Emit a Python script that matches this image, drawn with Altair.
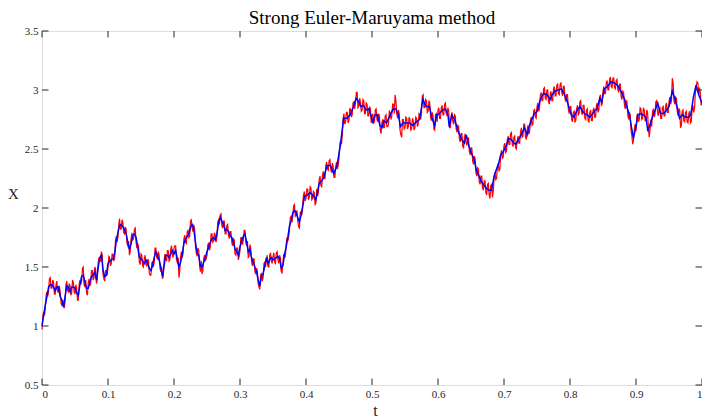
import altair as alt
import pandas as pd

# ---- blue (coarse Euler-Maruyama) path ----
blue_grid_vals = [
    1.00, 1.09, 1.18, 1.25, 1.33, 1.35, 1.35, 1.33, 1.30, 1.33,
    1.33, 1.25, 1.22, 1.16, 1.25, 1.34, 1.33, 1.29, 1.33, 1.33,
    1.32, 1.28, 1.26, 1.35, 1.42, 1.43, 1.37, 1.32, 1.32, 1.37,
    1.42, 1.43, 1.46, 1.39, 1.49, 1.58, 1.60, 1.47, 1.42, 1.43,
    1.53, 1.55, 1.56, 1.57, 1.61, 1.72, 1.79, 1.85, 1.86, 1.84,
    1.82, 1.78, 1.71, 1.65, 1.70, 1.77, 1.78, 1.75, 1.67, 1.58,
    1.57, 1.55, 1.53, 1.56, 1.53, 1.49, 1.47, 1.51, 1.58, 1.63,
    1.60, 1.56, 1.50, 1.42, 1.51, 1.60, 1.60, 1.58, 1.61, 1.64,
    1.61, 1.64, 1.57, 1.50, 1.54, 1.61, 1.70, 1.74, 1.76, 1.78,
    1.84, 1.86, 1.82, 1.71, 1.62, 1.60, 1.51, 1.50, 1.54, 1.58,
    1.63, 1.67, 1.71, 1.74, 1.75, 1.73, 1.78, 1.87, 1.92, 1.89,
    1.86, 1.81, 1.82, 1.80, 1.77, 1.75, 1.71, 1.65, 1.63, 1.60,
    1.67, 1.72, 1.76, 1.78, 1.71, 1.63, 1.65, 1.58, 1.54, 1.50,
    1.46, 1.39, 1.34, 1.42, 1.44, 1.51, 1.58, 1.53, 1.56, 1.58,
    1.56, 1.57, 1.58, 1.59, 1.57, 1.49, 1.51, 1.61, 1.67, 1.75,
    1.85, 1.89, 1.96, 1.98, 1.96, 1.92, 1.88, 1.94, 2.01, 2.10,
]
blue_tail_t = [
    .402, .406, .410, .415, .420, .424, .427, .432, .437, .442, .447, .452, .457,
    .462, .467, .472, .476, .480, .483, .487, .491, .495, .498, .501, .505, .508,
    .512, .515, .518, .522, .526, .532, .536, .540, .543, .547, .552, .557, .562,
    .567, .572, .577, .582, .587, .591, .595, .598, .602, .607, .611, .615, .617,
    .621, .625, .629, .632, .636, .640, .643, .647, .651, .655, .658, .662, .666,
    .670, .673, .677, .681, .685, .688, .692, .695, .699, .703, .707, .711, .715,
    .718, .722, .727, .731, .735, .738, .742, .746, .750, .755, .760, .765, .770,
    .773, .777, .782, .787, .791, .795, .798, .802, .806, .810, .815, .818, .822,
    .826, .830, .833, .837, .841, .845, .848, .852, .857, .862, .867, .872, .877,
    .882, .886, .890, .893, .896, .900, .903, .907, .911, .915, .918, .922, .926,
    .929, .933, .937, .941, .945, .950, .955, .958, .962, .966, .970, .975, .980,
    .983, .987, .991, .995, 1.0,
]
blue_tail_vals = [
    2.11, 2.13, 2.11, 2.07, 2.21, 2.23, 2.26, 2.36, 2.36, 2.29, 2.36, 2.53, 2.76,
    2.76, 2.79, 2.86, 2.93, 2.90, 2.86, 2.87, 2.83, 2.84, 2.79, 2.73, 2.79, 2.79,
    2.70, 2.68, 2.74, 2.72, 2.77, 2.84, 2.84, 2.79, 2.69, 2.72, 2.72, 2.72, 2.70,
    2.73, 2.75, 2.92, 2.86, 2.86, 2.76, 2.70, 2.79, 2.80, 2.83, 2.84, 2.79, 2.69,
    2.79, 2.75, 2.68, 2.63, 2.58, 2.55, 2.62, 2.52, 2.46, 2.41, 2.32, 2.27, 2.22,
    2.19, 2.17, 2.15, 2.15, 2.27, 2.32, 2.38, 2.45, 2.48, 2.52, 2.59, 2.58, 2.55,
    2.54, 2.58, 2.63, 2.68, 2.62, 2.69, 2.75, 2.80, 2.82, 2.92, 2.97, 2.96, 2.92,
    2.96, 2.99, 3.00, 3.01, 2.97, 2.92, 2.86, 2.79, 2.77, 2.82, 2.86, 2.83, 2.80,
    2.79, 2.77, 2.79, 2.82, 2.84, 2.93, 2.90, 3.01, 3.03, 3.07, 3.06, 3.04, 2.99,
    2.93, 2.86, 2.79, 2.69, 2.59, 2.69, 2.79, 2.80, 2.79, 2.77, 2.65, 2.72, 2.79,
    2.83, 2.89, 2.80, 2.80, 2.82, 2.86, 2.99, 2.94, 2.86, 2.76, 2.79, 2.77, 2.77,
    2.79, 2.94, 3.04, 2.96, 2.89,
]

# ---- red (fine path): values on the grid t = k*0.0025 ----
red_vals = [
    0.97, 1.12, 1.15, 1.29, 1.30, 1.41, 1.32, 1.37, 1.27, 1.38,
    1.29, 1.29, 1.17, 1.20, 1.21, 1.38, 1.29, 1.34, 1.28, 1.37,
    1.27, 1.32, 1.22, 1.39, 1.38, 1.50, 1.33, 1.28, 1.36, 1.34,
    1.47, 1.39, 1.50, 1.36, 1.53, 1.55, 1.63, 1.44, 1.38, 1.47,
    1.50, 1.58, 1.53, 1.61, 1.57, 1.76, 1.75, 1.91, 1.82, 1.88,
    1.78, 1.82, 1.68, 1.60, 1.74, 1.73, 1.82, 1.71, 1.70, 1.54,
    1.61, 1.51, 1.57, 1.52, 1.56, 1.45, 1.43, 1.55, 1.54, 1.66,
    1.57, 1.60, 1.46, 1.40, 1.55, 1.57, 1.64, 1.55, 1.65, 1.60,
    1.66, 1.68, 1.54, 1.41, 1.58, 1.58, 1.74, 1.71, 1.80, 1.75,
    1.89, 1.83, 1.86, 1.68, 1.59, 1.64, 1.46, 1.44, 1.57, 1.55,
    1.60, 1.70, 1.67, 1.78, 1.72, 1.77, 1.75, 1.90, 1.94, 1.85,
    1.89, 1.78, 1.85, 1.77, 1.80, 1.71, 1.74, 1.61, 1.66, 1.56,
    1.64, 1.75, 1.73, 1.81, 1.68, 1.58, 1.69, 1.55, 1.57, 1.46,
    1.49, 1.36, 1.31, 1.45, 1.41, 1.54, 1.55, 1.50, 1.60, 1.55,
    1.59, 1.54, 1.62, 1.56, 1.60, 1.46, 1.54, 1.58, 1.70, 1.72,
    1.82, 1.93, 1.93, 2.03, 1.94, 1.89, 1.83, 1.97, 2.04, 2.14,
    2.08, 2.16, 2.09, 2.17, 2.08, 2.13, 2.04, 2.10, 2.24, 2.19,
    2.28, 2.25, 2.36, 2.33, 2.40, 2.33, 2.38, 2.26, 2.35, 2.33,
    2.42, 2.57, 2.62, 2.80, 2.73, 2.81, 2.74, 2.84, 2.79, 2.90,
    2.89, 2.98, 2.86, 2.90, 2.83, 2.91, 2.80, 2.88, 2.78, 2.84,
    2.78, 2.72, 2.83, 2.75, 2.80, 2.66, 2.72, 2.68, 2.78, 2.69,
    2.71, 2.81, 2.78, 2.88, 2.96, 2.80, 2.83, 2.66, 2.60, 2.75,
    2.68, 2.76, 2.69, 2.75, 2.67, 2.74, 2.68, 2.76, 2.71, 2.79,
    2.81, 2.96, 2.85, 2.91, 2.82, 2.89, 2.74, 2.78, 2.66, 2.80,
    2.83, 2.76, 2.85, 2.79, 2.88, 2.80, 2.85, 2.68, 2.78, 2.73,
    2.79, 2.67, 2.70, 2.58, 2.63, 2.52, 2.60, 2.56, 2.58, 2.48,
    2.51, 2.40, 2.44, 2.30, 2.34, 2.22, 2.27, 2.17, 2.23, 2.13,
    2.20, 2.11, 2.19, 2.09, 2.26, 2.24, 2.35, 2.31, 2.45, 2.42,
    2.53, 2.47, 2.58, 2.54, 2.63, 2.54, 2.60, 2.51, 2.57, 2.55,
    2.64, 2.60, 2.71, 2.60, 2.66, 2.63, 2.74, 2.70, 2.82, 2.77,
    2.86, 2.82, 2.95, 2.91, 3.01, 2.93, 3.00, 2.90, 2.96, 2.91,
    3.01, 2.95, 3.04, 2.97, 3.05, 2.98, 3.03, 2.92, 2.96, 2.84,
    2.86, 2.75, 2.81, 2.73, 2.84, 2.79, 2.90, 2.81, 2.87, 2.76,
    2.83, 2.74, 2.81, 2.74, 2.83, 2.77, 2.87, 2.81, 2.94, 2.87,
    2.99, 2.97, 3.06, 3.00, 3.09, 3.03, 3.10, 3.02, 3.08, 3.00,
    3.05, 2.94, 2.99, 2.87, 2.91, 2.79, 2.81, 2.66, 2.54, 2.67,
    2.65, 2.80, 2.75, 2.84, 2.76, 2.83, 2.74, 2.81, 2.60, 2.75,
    2.81, 2.77, 2.90, 2.82, 2.84, 2.76, 2.85, 2.78, 2.87, 2.81,
    2.90, 2.88, 3.10, 2.91, 2.94, 2.82, 2.84, 2.68, 2.82, 2.74,
    2.81, 2.73, 2.80, 2.72, 2.83, 2.81, 2.98, 3.07, 2.96, 2.97,
    2.90,
]
# ---- red (fine path): values half-way between, t = (k+0.5)*0.0025 ----
red_mid_vals = [
    1.08, 1.09, 1.26, 1.25, 1.40, 1.32, 1.39, 1.27, 1.35, 1.29,
    1.34, 1.20, 1.22, 1.15, 1.35, 1.30, 1.36, 1.26, 1.39, 1.29,
    1.35, 1.22, 1.35, 1.35, 1.49, 1.35, 1.39, 1.26, 1.40, 1.36,
    1.47, 1.41, 1.48, 1.39, 1.58, 1.55, 1.60, 1.40, 1.47, 1.43,
    1.59, 1.51, 1.61, 1.55, 1.72, 1.71, 1.86, 1.82, 1.90, 1.79,
    1.84, 1.70, 1.72, 1.63, 1.79, 1.74, 1.83, 1.66, 1.67, 1.52,
    1.60, 1.50, 1.60, 1.51, 1.56, 1.43, 1.53, 1.50, 1.66, 1.58,
    1.63, 1.49, 1.50, 1.42, 1.61, 1.55, 1.64, 1.56, 1.68, 1.58,
    1.68, 1.56, 1.58, 1.47, 1.63, 1.62, 1.77, 1.70, 1.81, 1.76,
    1.90, 1.80, 1.82, 1.62, 1.66, 1.51, 1.55, 1.47, 1.60, 1.57,
    1.69, 1.64, 1.78, 1.71, 1.79, 1.71, 1.88, 1.86, 1.95, 1.83,
    1.89, 1.78, 1.86, 1.74, 1.80, 1.68, 1.73, 1.60, 1.66, 1.59,
    1.75, 1.69, 1.81, 1.71, 1.72, 1.59, 1.66, 1.51, 1.57, 1.44,
    1.47, 1.33, 1.43, 1.38, 1.53, 1.50, 1.60, 1.50, 1.62, 1.53,
    1.62, 1.53, 1.63, 1.53, 1.58, 1.45, 1.61, 1.59, 1.75, 1.76,
    1.92, 1.88, 2.02, 1.93, 1.98, 1.84, 1.96, 1.94, 2.11, 2.06,
    2.16, 2.07, 2.18, 2.07, 2.14, 2.03, 2.16, 2.13, 2.27, 2.18,
    2.31, 2.25, 2.39, 2.32, 2.41, 2.30, 2.35, 2.26, 2.39, 2.36,
    2.54, 2.54, 2.76, 2.71, 2.81, 2.72, 2.84, 2.77, 2.89, 2.84,
    2.98, 2.85, 2.93, 2.82, 2.92, 2.80, 2.89, 2.78, 2.86, 2.72,
    2.80, 2.73, 2.84, 2.73, 2.78, 2.63, 2.75, 2.68, 2.79, 2.69,
    2.82, 2.75, 2.88, 2.80, 2.91, 2.76, 2.80, 2.62, 2.75, 2.67,
    2.77, 2.67, 2.77, 2.66, 2.76, 2.66, 2.77, 2.69, 2.80, 2.75,
    2.95, 2.85, 2.92, 2.81, 2.91, 2.77, 2.81, 2.67, 2.79, 2.73,
    2.85, 2.76, 2.87, 2.79, 2.89, 2.78, 2.82, 2.68, 2.81, 2.71,
    2.78, 2.64, 2.69, 2.56, 2.63, 2.51, 2.63, 2.53, 2.59, 2.45,
    2.51, 2.37, 2.42, 2.27, 2.33, 2.20, 2.27, 2.15, 2.23, 2.11,
    2.21, 2.08, 2.20, 2.14, 2.30, 2.25, 2.38, 2.33, 2.49, 2.43,
    2.55, 2.48, 2.61, 2.54, 2.64, 2.52, 2.61, 2.50, 2.61, 2.55,
    2.68, 2.61, 2.71, 2.58, 2.70, 2.64, 2.77, 2.71, 2.84, 2.76,
    2.89, 2.84, 2.98, 2.91, 3.02, 2.92, 3.00, 2.88, 2.99, 2.91,
    3.03, 2.95, 3.05, 2.96, 3.06, 2.95, 3.03, 2.90, 2.96, 2.80,
    2.86, 2.73, 2.82, 2.74, 2.87, 2.80, 2.91, 2.79, 2.87, 2.75,
    2.84, 2.73, 2.83, 2.74, 2.85, 2.77, 2.89, 2.83, 2.96, 2.88,
    3.03, 2.97, 3.08, 3.00, 3.11, 3.02, 3.10, 3.01, 3.09, 2.98,
    3.05, 2.92, 2.98, 2.84, 2.90, 2.75, 2.79, 2.61, 2.58, 2.71,
    2.78, 2.73, 2.85, 2.75, 2.85, 2.74, 2.83, 2.68, 2.66, 2.69,
    2.84, 2.79, 2.91, 2.78, 2.85, 2.76, 2.86, 2.78, 2.89, 2.81,
    2.94, 2.91, 3.06, 2.88, 2.93, 2.78, 2.83, 2.70, 2.83, 2.73,
    2.82, 2.72, 2.82, 2.73, 2.87, 2.85, 3.03, 3.06, 3.02, 2.87,
]

x_ticks = [0, 0.1, 0.2, 0.3, 0.4, 0.5, 0.6, 0.7, 0.8, 0.9, 1]
y_ticks = [0.5, 1, 1.5, 2, 2.5, 3, 3.5]

W, H = 660, 354
TL = 6.5
FONT = "Liberation Serif"
AX = "#262626"

blue_t = [round(i * 0.0025, 4) for i in range(len(blue_grid_vals))] + blue_tail_t
blue_x = blue_grid_vals + blue_tail_vals
red_df = pd.concat([
    pd.DataFrame({"t": [round(i * 0.0025, 5) for i in range(len(red_vals))], "x": red_vals}),
    pd.DataFrame({"t": [round((i + 0.5) * 0.0025, 5) for i in range(len(red_mid_vals))], "x": red_mid_vals}),
]).sort_values("t").reset_index(drop=True)
red_df["o"] = range(len(red_df))

blue_df = pd.DataFrame({"t": blue_t, "x": blue_x})
xt_df = pd.DataFrame({"t": x_ticks})
yt_df = pd.DataFrame({"x": y_ticks})

xs = alt.Scale(domain=[0, 1], nice=False, zero=False)
ys = alt.Scale(domain=[0.5, 3.5], nice=False, zero=False)

x_axis = alt.Axis(values=x_ticks, format="~g", ticks=False, domain=False, grid=False,
                  labelFont=FONT, labelFontSize=11, labelColor=AX, labelPadding=3,
                  title="t", titleFont=FONT, titleFontSize=16, titleFontWeight="normal",
                  titleColor=AX, titleBaseline="alphabetic", titleY=30, titleX=333)
y_axis = alt.Axis(values=y_ticks, format="~g", ticks=False, domain=False, grid=False,
                  labelFont=FONT, labelFontSize=11, labelColor=AX, labelPadding=4,
                  title="X", titleFont=FONT, titleFontSize=15, titleFontWeight="normal",
                  titleColor=AX, titleAngle=0, titleAlign="center", titleBaseline="middle",
                  titleX=-29, titleY=162)

X = alt.X("t:Q", scale=xs, axis=x_axis)
Y = alt.Y("x:Q", scale=ys, axis=y_axis)

red = alt.Chart(red_df).mark_line(color="#ff0000", strokeWidth=1.2).encode(
    x=X, y=Y, order="o:Q")
blue = alt.Chart(blue_df).mark_line(color="#0000ff", strokeWidth=1.5).encode(x=X, y=Y)

tick_bottom = alt.Chart(xt_df).mark_rule(color=AX, strokeWidth=1).encode(
    x=X, y=alt.value(H), y2=alt.value(H - TL))
tick_top = alt.Chart(xt_df).mark_rule(color=AX, strokeWidth=1).encode(
    x=X, y=alt.value(0), y2=alt.value(TL))
tick_left = alt.Chart(yt_df).mark_rule(color=AX, strokeWidth=1).encode(
    y=Y, x=alt.value(0), x2=alt.value(TL))
tick_right = alt.Chart(yt_df).mark_rule(color=AX, strokeWidth=1).encode(
    y=Y, x=alt.value(W), x2=alt.value(W - TL))

chart = alt.layer(red, blue, tick_bottom, tick_top, tick_left, tick_right).properties(
    width=W, height=H,
    title=alt.TitleParams("Strong Euler-Maruyama method", font=FONT, fontSize=19,
                          fontWeight="normal", color="#000000", anchor="middle",
                          offset=4, dy=7),
    autosize=alt.AutoSizeParams(type="none"),
    padding={"left": 34, "top": 23, "right": 0, "bottom": 32},
).configure_view(stroke=AX, strokeWidth=1).configure(background="white")

chart.save("out.html", embed_options={"renderer": "svg", "actions": False})
